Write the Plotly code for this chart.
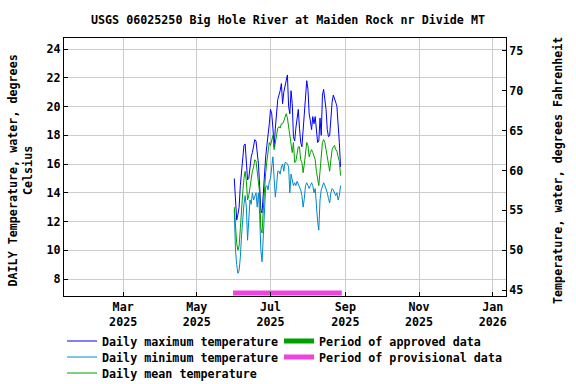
import plotly.graph_objects as go
import pandas as pd

# ---- data ----
start_date = "2025-06-01"
daily_max = [15.0, 13.5, 12.1, 12.5, 13.0, 14.5, 15.5, 16.2, 17.3, 17.4,
             16.0, 14.9, 15.0, 15.8, 16.5, 16.8, 17.3, 17.7, 17.6, 16.8,
             16.0, 14.5, 12.8, 12.6, 14.0, 15.6, 16.5, 17.3, 17.9, 18.8,
             19.8, 19.5, 18.5, 17.2, 18.5, 19.5, 20.5, 20.8, 21.1, 21.6,
             20.2, 21.0, 21.5, 21.8, 22.2, 20.0, 19.5, 21.1, 20.2, 17.9,
             17.6, 18.5, 19.3, 19.8, 18.5, 17.5, 17.2, 18.5, 19.8, 21.0,
             21.8, 21.2, 19.5, 19.0, 18.4, 19.3, 18.8, 19.3, 18.0, 17.5,
             17.6, 19.2, 18.0, 20.8, 21.2, 20.5, 19.8, 18.4, 17.9, 18.0,
             19.2, 20.3, 20.8, 20.6, 20.3, 20.0, 19.0, 17.5, 15.8]
daily_min = [12.8, 10.0, 9.0, 8.4, 8.6, 9.5, 11.0, 12.5, 13.2, 13.8,
             13.0, 10.7, 12.0, 13.5, 13.2, 14.0, 13.5, 13.8, 14.0, 13.0,
             14.0, 12.5, 10.0, 9.2, 11.0, 13.5, 14.4, 14.5, 14.2, 14.8,
             15.0, 15.8, 16.5, 15.0, 13.7, 14.5, 15.5, 15.5, 15.3, 15.8,
             16.0, 15.5, 16.1, 16.1, 16.0, 15.8, 14.0, 15.3, 14.8, 14.5,
             14.7, 14.5, 14.8, 14.6, 14.4, 14.2, 13.8, 13.0, 13.6, 14.5,
             14.7, 14.5, 14.3, 14.5, 14.7, 14.5, 14.0, 14.3, 13.0, 12.0,
             11.4, 13.5, 14.2, 14.5, 14.7, 14.5, 14.3, 14.0, 13.6, 13.3,
             14.0, 14.3, 14.2, 14.0, 13.8, 14.0, 13.5, 13.8, 14.5]
daily_mean = [13.0, 11.5, 10.5, 10.0, 10.3, 11.5, 13.0, 14.0, 15.0, 15.5,
              14.8, 13.5, 13.8, 14.5, 15.0, 15.5, 15.8, 16.3, 16.2, 15.5,
              15.0, 14.0, 11.5, 11.2, 12.8, 14.5, 15.4, 16.2, 17.0, 17.5,
              17.3, 17.8, 18.0, 17.0, 17.5, 18.0, 18.5, 18.6, 18.5, 18.8,
              18.8, 19.0, 19.3, 19.5, 19.2, 18.5, 17.8, 17.2, 16.8, 17.5,
              16.1, 16.2, 16.8, 17.2, 17.2, 16.3, 16.1, 15.4, 16.0, 17.0,
              17.5, 17.3, 16.5, 16.8, 17.0, 16.8, 16.5, 16.3, 15.5, 14.9,
              14.5, 15.5, 16.3, 17.5, 17.7, 17.5, 17.0, 16.5, 16.0, 15.5,
              16.3, 17.0, 17.2, 17.3, 17.0, 16.9, 16.5, 16.2, 15.2]
dates = pd.date_range(start_date, periods=len(daily_max), freq="D")

provisional_period = ["2025-05-31", "2025-08-29"]
provisional_level = [7.03, 7.03]

tick_dates = ["2025-03-01", "2025-05-01", "2025-07-01", "2025-09-01", "2025-11-01", "2026-01-01"]
tick_labels = ["Mar<br>2025", "May<br>2025", "Jul<br>2025", "Sep<br>2025", "Nov<br>2025", "Jan<br>2026"]
c_ticks = [8, 10, 12, 14, 16, 18, 20, 22, 24]
f_ticks = [45, 50, 55, 60, 65, 70, 75]

c_range = [6.82, 24.77]
f_range = [c * 1.8 + 32 for c in c_range]

FONT = dict(family="DejaVu Sans Mono", size=11.7, color="black", weight="bold")

fig = go.Figure()
fig.add_trace(go.Scatter(x=dates, y=daily_max, mode="lines", name="Daily maximum temperature",
                         line=dict(color="#0000FF", width=1), legend="legend"))
fig.add_trace(go.Scatter(x=dates, y=daily_min, mode="lines", name="Daily minimum temperature",
                         line=dict(color="#0088D0", width=1), legend="legend2"))
fig.add_trace(go.Scatter(x=dates, y=daily_mean, mode="lines", name="Daily mean temperature",
                         line=dict(color="#00A000", width=1), legend="legend3"))
fig.add_trace(go.Scatter(x=[None], y=[None], mode="lines", name="Period of approved data",
                         line=dict(color="#00A000", width=5), legend="legend4"))
fig.add_trace(go.Scatter(x=provisional_period, y=provisional_level, mode="lines",
                         name="Period of provisional data", line=dict(color="#EE44DD", width=5),
                         legend="legend5"))
# invisible trace to activate secondary axis
fig.add_trace(go.Scatter(x=[None], y=[None], yaxis="y2", showlegend=False, hoverinfo="skip"))


def leg(xpx, ypx):
    return dict(orientation="v", xref="container", yref="container",
                x=xpx / 576, xanchor="left", y=1 - ypx / 384, yanchor="middle",
                font=FONT, bgcolor="rgba(0,0,0,0)", tracegroupgap=0, itemwidth=30)


fig.update_layout(
    width=576, height=384,
    margin=dict(l=64, r=70, t=38, b=88, autoexpand=False),
    paper_bgcolor="white", plot_bgcolor="white",
    font=FONT,
    title=dict(text="USGS 06025250 Big Hole River at Maiden Rock nr Divide MT",
               x=0.5, xanchor="center", y=0.948, yanchor="middle", font=FONT),
    xaxis=dict(range=["2025-01-11", "2026-01-12"], tickmode="array", tickvals=tick_dates,
               ticktext=tick_labels, showgrid=True, gridcolor="#CCCCCC", gridwidth=1,
               showline=True, linecolor="black", linewidth=1, mirror=True, automargin=False,
               ticks="inside", ticklen=4, tickcolor="black", zeroline=False, tickfont=FONT),
    yaxis=dict(range=c_range, tickmode="array", tickvals=c_ticks, showgrid=True, automargin=False,
               gridcolor="#CCCCCC", gridwidth=1, showline=True, linecolor="black", linewidth=1,
               ticks="inside", ticklen=4, tickcolor="black", zeroline=False, tickfont=FONT),
    yaxis2=dict(range=f_range, overlaying="y", side="right", tickmode="array", tickvals=f_ticks,
                showgrid=False, showline=True, linecolor="black", linewidth=1, automargin=False,
                ticks="inside", ticklen=4, tickcolor="black", zeroline=False, tickfont=FONT),
    legend=leg(62, 341),
    legend2=leg(62, 357),
    legend3=leg(62, 373),
    legend4=leg(279, 341),
    legend5=leg(279, 357),
    showlegend=True,
    annotations=[
        dict(text="DAILY Temperature, water, degrees<br>Celsius", xref="paper", yref="paper",
             x=(19.5 - 64) / 442, y=(296 - 171) / 258, xanchor="center", yanchor="middle",
             textangle=-90, showarrow=False, font=FONT),
        dict(text="Temperature, water, degrees Fahrenheit", xref="paper", yref="paper",
             x=(558 - 64) / 442, y=(296 - 171) / 258, xanchor="center", yanchor="middle",
             textangle=-90, showarrow=False, font=FONT),
    ],
)

fig.write_html("out.html", config={"displayModeBar": False},
               post_script="document.body.style.margin='0';")
